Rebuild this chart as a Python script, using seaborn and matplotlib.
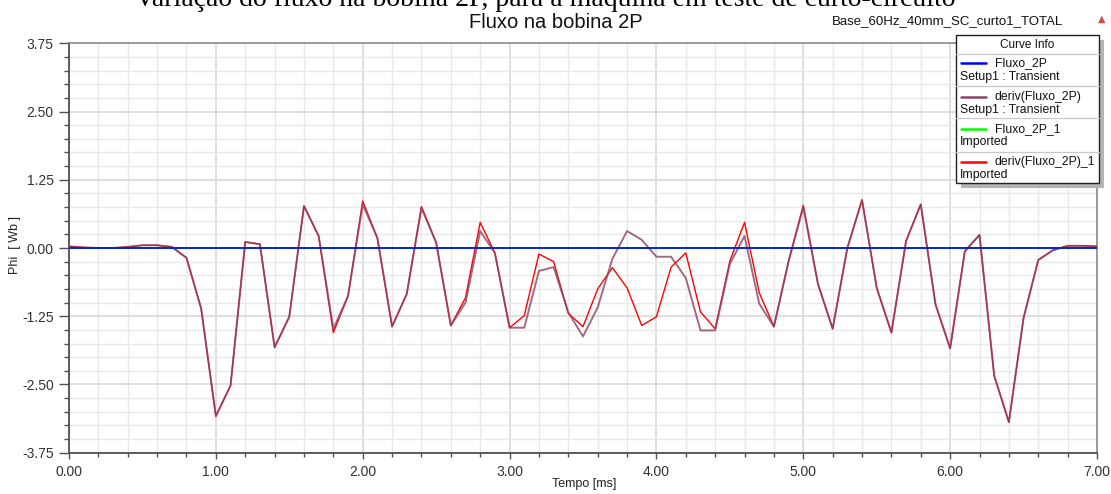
import numpy as np
import pandas as pd
import matplotlib
matplotlib.use("Agg")
import matplotlib.pyplot as plt
from matplotlib.patches import Rectangle
from matplotlib.lines import Line2D
from matplotlib.ticker import MultipleLocator, FormatStrFormatter
import seaborn as sns

# ---------------- data ----------------
time_ms = [0.0, 0.1, 0.2, 0.3, 0.4, 0.5, 0.6, 0.7, 0.8, 0.9,
           1.0, 1.1, 1.2, 1.3, 1.4, 1.5, 1.6, 1.7, 1.8, 1.9,
           2.0, 2.1, 2.2, 2.3, 2.4, 2.5, 2.6, 2.7, 2.8, 2.9,
           3.0, 3.1, 3.2, 3.3, 3.4, 3.5, 3.6, 3.7, 3.8, 3.9,
           4.0, 4.1, 4.2, 4.3, 4.4, 4.5, 4.6, 4.7, 4.8, 4.9,
           5.0, 5.1, 5.2, 5.3, 5.4, 5.5, 5.6, 5.7, 5.8, 5.9,
           6.0, 6.1, 6.2, 6.3, 6.4, 6.5, 6.6, 6.7, 6.8, 6.9,
           7.0]

fluxo_2p = [0.0] * 71        # blue, Setup1 : Transient
fluxo_2p_1 = [0.0] * 71      # green, Imported (hidden below blue)

deriv_fluxo_2p = [0.03, 0.01, 0.00, 0.00, 0.02, 0.05, 0.05, 0.02, -0.18, -1.11,
                  -3.08, -2.52, 0.11, 0.07, -1.82, -1.26, 0.77, 0.22, -1.48, -0.88,
                  0.80, 0.18, -1.44, -0.84, 0.73, 0.10, -1.42, -1.00, 0.31, -0.09,
                  -1.46, -1.46, -0.42, -0.35, -1.18, -1.62, -1.09, -0.20, 0.31, 0.15,
                  -0.16, -0.16, -0.55, -1.51, -1.51, -0.29, 0.22, -1.02, -1.44, -0.24,
                  0.75, -0.66, -1.48, 0.00, 0.88, -0.73, -1.55, 0.13, 0.80, -1.03,
                  -1.84, -0.06, 0.24, -2.34, -3.19, -1.28, -0.22, -0.04, 0.04, 0.04,
                  0.03]

deriv_fluxo_2p_1 = [0.03, 0.01, 0.00, 0.00, 0.02, 0.05, 0.05, 0.02, -0.18, -1.11,
                    -3.08, -2.52, 0.11, 0.07, -1.82, -1.26, 0.77, 0.22, -1.55, -0.88,
                    0.86, 0.18, -1.44, -0.84, 0.76, 0.10, -1.42, -0.91, 0.47, -0.09,
                    -1.46, -1.24, -0.11, -0.25, -1.20, -1.44, -0.75, -0.36, -0.73, -1.42,
                    -1.26, -0.35, -0.09, -1.17, -1.48, -0.24, 0.47, -0.82, -1.44, -0.24,
                    0.78, -0.66, -1.48, 0.00, 0.88, -0.73, -1.55, 0.13, 0.80, -1.03,
                    -1.84, -0.06, 0.24, -2.34, -3.19, -1.28, -0.22, -0.04, 0.04, 0.04,
                    0.03]

legend_names = ["Fluxo_2P", "deriv(Fluxo_2P)", "Fluxo_2P_1", "deriv(Fluxo_2P)_1"]
legend_sources = ["Setup1 : Transient", "Setup1 : Transient", "Imported", "Imported"]
legend_colors = ["#0000ff", "#8b4566", "#00ff00", "#ff0000"]

x_ticks = [0.0, 1.0, 2.0, 3.0, 4.0, 5.0, 6.0, 7.0]
y_ticks = [-3.75, -2.50, -1.25, 0.00, 1.25, 2.50, 3.75]

# ---------------- styling ----------------
sns.set_theme(style="white")
plt.rcParams["font.family"] = ["Liberation Sans", "DejaVu Sans"]

W, H = 1111, 494
fig = plt.figure(figsize=(W / 100, H / 100), dpi=100)
fig.patch.set_facecolor("white")

def fx(x):
    return x / W

def fy(y):
    return 1 - y / H

ax_l, ax_r, ax_t, ax_b = 69, 1097, 43.3, 452.7
ax = fig.add_axes([fx(ax_l), fy(ax_b), (ax_r - ax_l) / W, (ax_b - ax_t) / H])

df = pd.DataFrame({
    "t": time_ms,
    "flux": fluxo_2p,
    "flux1": fluxo_2p_1,
    "deriv": deriv_fluxo_2p,
    "deriv1": deriv_fluxo_2p_1,
})

sns.lineplot(data=df, x="t", y="deriv1", ax=ax, color=legend_colors[3], lw=1.0,
             sort=False, zorder=3)
sns.lineplot(data=df, x="t", y="deriv", ax=ax, color=legend_colors[1], lw=1.4,
             alpha=0.8, sort=False, zorder=4)
sns.lineplot(data=df, x="t", y="flux1", ax=ax, color=legend_colors[2], lw=1.2,
             sort=False, zorder=5)
sns.lineplot(data=df, x="t", y="flux", ax=ax, color=legend_colors[0], lw=1.2,
             sort=False, zorder=6)

ax.set_xlim(0, 7)
ax.set_ylim(-3.75, 3.75)
ax.xaxis.set_minor_locator(MultipleLocator(0.2))
ax.yaxis.set_minor_locator(MultipleLocator(0.25))
ax.set_xticks(x_ticks)
ax.set_yticks(y_ticks)
ax.xaxis.set_major_formatter(FormatStrFormatter("%.2f"))
ax.yaxis.set_major_formatter(FormatStrFormatter("%.2f"))

ax.grid(which="major", color="#d6d6d6", lw=1.1, zorder=0)
ax.grid(which="minor", color="#e9e9e9", lw=1.0, zorder=0)
ax.set_axisbelow(True)

for side in ["left", "bottom"]:
    ax.spines[side].set_color("#505050")
    ax.spines[side].set_linewidth(1.3)
for side in ["top", "right"]:
    ax.spines[side].set_color("#8a8a8a")
    ax.spines[side].set_linewidth(1.2)

ax.tick_params(axis="y", which="major", direction="out", length=7.5, width=1.0,
               color="#505050", labelsize=10, labelcolor="#333333", pad=3.5, left=True)
ax.tick_params(axis="y", which="minor", direction="out", length=3.5, width=1.0,
               color="#505050", left=True)
ax.tick_params(axis="x", which="major", direction="out", length=4, width=1.0,
               color="#505050", labelsize=10, labelcolor="#333333", pad=5, bottom=True)
ax.tick_params(axis="x", which="minor", direction="out", length=3, width=1.0,
               color="#505050", bottom=True)

ax.set_xlabel("")
ax.set_ylabel("")
fig.text(fx(584), fy(484), "Tempo [ms]", fontsize=9, color="#222222",
         ha="center", va="center")
fig.text(fx(15), fy(245), "Phi  [ Wb ]", fontsize=9, color="#222222",
         ha="center", va="center", rotation=90)

# ---------------- titles ----------------
fig.text(fx(545), fy(6), "Variação do fluxo na bobina 2P, para a máquina em teste de curto-circuito",
         family=["Liberation Serif", "DejaVu Serif"], fontsize=20, ha="center",
         va="baseline", color="black")
fig.text(fx(556), fy(22), "Fluxo na bobina 2P", fontsize=14.5, ha="center",
         va="center", color="#111111")
fig.text(fx(832), fy(21), "Base_60Hz_40mm_SC_curto1_TOTAL", fontsize=9.5,
         ha="left", va="center", color="#111111")
fig.text(fx(1102), fy(19), "▲", family=["DejaVu Sans"], fontsize=7,
         ha="center", va="center", color="#c85050")

# ---------------- Curve Info box ----------------
bx_l, bx_r, bx_t, bx_b = 956, 1099, 35, 183
shadow = Rectangle((fx(bx_l + 5), fy(bx_b + 5)), (bx_r - bx_l) / W, (bx_b - bx_t) / H,
                   transform=fig.transFigure, facecolor="#b4b4b4", edgecolor="none",
                   zorder=20)
fig.add_artist(shadow)
box = Rectangle((fx(bx_l), fy(bx_b)), (bx_r - bx_l) / W, (bx_b - bx_t) / H,
                transform=fig.transFigure, facecolor="white", edgecolor="#202020",
                lw=1.0, zorder=21)
fig.add_artist(box)
fig.text(fx((bx_l + bx_r) / 2), fy(45), "Curve Info", fontsize=8.5, ha="center",
         va="center", color="#111111", zorder=22)

sep_ys = [54, 86, 118, 152]
row_line_ys = [63, 97, 129, 162]
row_src_ys = [77, 110, 142, 175]
for sy in sep_ys:
    fig.add_artist(Line2D([fx(bx_l), fx(bx_r)], [fy(sy), fy(sy)], transform=fig.transFigure,
                          color="#c8c8c8", lw=0.9, zorder=22))
for name, src, col, ly, sy in zip(legend_names, legend_sources, legend_colors,
                                  row_line_ys, row_src_ys):
    fig.add_artist(Line2D([fx(961), fx(986)], [fy(ly), fy(ly)], transform=fig.transFigure,
                          color=col, lw=1.8, zorder=22))
    fig.text(fx(995), fy(ly), name, fontsize=8.8, ha="left", va="center",
             color="#111111", zorder=22)
    fig.text(fx(960), fy(sy), src, fontsize=8.8, ha="left", va="center",
             color="#111111", zorder=22)

fig.savefig("out.png", dpi=100, facecolor="white")
